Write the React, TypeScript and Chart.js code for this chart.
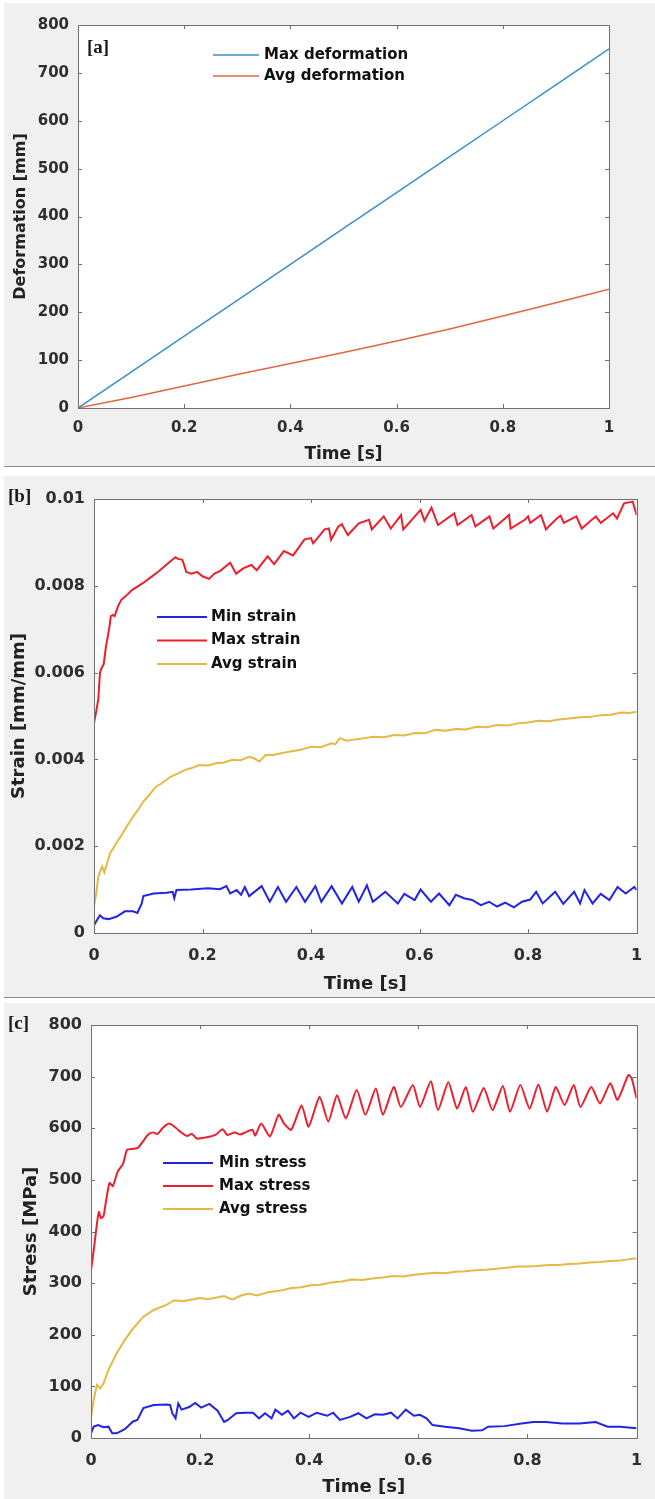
import React, { useEffect, useRef } from 'react';
import { Chart, registerables } from 'chart.js';

Chart.register(...registerables);

// ---------------- DATA ----------------
const xTicks = [0, 0.2, 0.4, 0.6, 0.8, 1];
const xTickLabels = ['0', '0.2', '0.4', '0.6', '0.8', '1'];

// Panel [a]
const deformTicks = [0, 100, 200, 300, 400, 500, 600, 700, 800];
const deformTickLabels = ['0', '100', '200', '300', '400', '500', '600', '700', '800'];
const maxDeformation: [number, number][] = [
  [0, 0], [0.1, 75], [0.2, 150], [0.3, 225], [0.4, 300], [0.5, 375],
  [0.6, 450], [0.7, 525], [0.8, 600], [0.9, 675], [1, 750],
];
const avgDeformation: [number, number][] = [
  [0, 0], [0.1, 22], [0.2, 46], [0.3, 70], [0.4, 93], [0.5, 116],
  [0.6, 140], [0.7, 165], [0.8, 192], [0.9, 220], [1, 248],
];

// Panel [b]
const strainTicks = [0, 0.002, 0.004, 0.006, 0.008, 0.01];
const strainTickLabels = ['0', '0.002', '0.004', '0.006', '0.008', '0.01'];
const minStrain: [number, number][] = [
  [0, 0.00018], [0.005, 0.00029], [0.011, 0.00041], [0.017, 0.00034], [0.027, 0.00032],
  [0.042, 0.00038], [0.057, 0.0005], [0.072, 0.0005], [0.08, 0.00046], [0.088, 0.00068],
  [0.091, 0.00085], [0.11, 0.00091], [0.134, 0.00093], [0.145, 0.00095], [0.148, 0.0008],
  [0.152, 0.00099], [0.179, 0.001], [0.21, 0.00103], [0.232, 0.00101], [0.244, 0.00108],
  [0.251, 0.00091], [0.263, 0.00099], [0.271, 0.00088], [0.278, 0.00106], [0.286, 0.00085],
  [0.309, 0.00108], [0.324, 0.00072], [0.339, 0.00106], [0.354, 0.00072], [0.373, 0.00106],
  [0.389, 0.00072], [0.408, 0.00108], [0.419, 0.00072], [0.438, 0.00108], [0.457, 0.00068],
  [0.476, 0.00106], [0.488, 0.00072], [0.503, 0.0011], [0.514, 0.00072], [0.537, 0.00095],
  [0.56, 0.00068], [0.572, 0.0009], [0.591, 0.00076], [0.602, 0.001], [0.621, 0.00072],
  [0.636, 0.00091], [0.655, 0.00064], [0.667, 0.00088], [0.682, 0.0008], [0.697, 0.00076],
  [0.713, 0.00064], [0.728, 0.00072], [0.743, 0.00061], [0.758, 0.0007], [0.774, 0.00059],
  [0.789, 0.00072], [0.804, 0.00077], [0.815, 0.00095], [0.827, 0.00068], [0.85, 0.00095],
  [0.865, 0.00067], [0.885, 0.00095], [0.896, 0.00068], [0.904, 0.00099], [0.919, 0.00068],
  [0.934, 0.0009], [0.95, 0.00076], [0.965, 0.00106], [0.98, 0.00091], [0.996, 0.00106],
  [1, 0.00099],
];
const maxStrain: [number, number][] = [
  [0, 0.00484], [0.004, 0.0051], [0.008, 0.0054], [0.011, 0.006], [0.014, 0.0061],
  [0.018, 0.0062], [0.022, 0.0066], [0.025, 0.0068], [0.029, 0.0071], [0.031, 0.0073],
  [0.035, 0.00733], [0.038, 0.0073], [0.044, 0.00752], [0.05, 0.00767], [0.06, 0.00778],
  [0.07, 0.0079], [0.08, 0.00798], [0.09, 0.00806], [0.105, 0.0082], [0.12, 0.00834],
  [0.135, 0.0085], [0.15, 0.00866], [0.155, 0.00862], [0.163, 0.0086], [0.17, 0.00832],
  [0.18, 0.00828], [0.19, 0.00832], [0.2, 0.00822], [0.212, 0.00816], [0.222, 0.00828],
  [0.232, 0.00834], [0.251, 0.00853], [0.262, 0.00828], [0.275, 0.0084], [0.29, 0.00848],
  [0.3, 0.00836], [0.32, 0.00868], [0.332, 0.0085], [0.35, 0.0088], [0.367, 0.0087],
  [0.388, 0.00907], [0.4, 0.0091], [0.404, 0.00898], [0.425, 0.0093], [0.433, 0.00932],
  [0.437, 0.00906], [0.45, 0.00936], [0.457, 0.00942], [0.462, 0.0093], [0.468, 0.00917],
  [0.488, 0.00944], [0.507, 0.00952], [0.512, 0.0093], [0.534, 0.0096], [0.547, 0.00932],
  [0.566, 0.00963], [0.57, 0.0093], [0.602, 0.00975], [0.609, 0.0095], [0.622, 0.0098],
  [0.634, 0.0094], [0.664, 0.00967], [0.67, 0.0094], [0.696, 0.00963], [0.703, 0.00937],
  [0.729, 0.0096], [0.736, 0.00932], [0.765, 0.00963], [0.768, 0.00932], [0.794, 0.00952],
  [0.8, 0.0096], [0.804, 0.00945], [0.824, 0.00963], [0.833, 0.0093], [0.853, 0.00955],
  [0.86, 0.00962], [0.866, 0.00945], [0.889, 0.0096], [0.899, 0.00932], [0.925, 0.0096],
  [0.934, 0.00945], [0.957, 0.00967], [0.964, 0.00955], [0.977, 0.0099], [0.993, 0.00994],
  [1, 0.00963],
];
const avgStrain: [number, number][] = [
  [0, 0.00061], [0.004, 0.0009], [0.008, 0.0013], [0.012, 0.00145], [0.015, 0.00153],
  [0.019, 0.0014], [0.024, 0.0016], [0.03, 0.00184], [0.04, 0.00205], [0.049, 0.00222],
  [0.06, 0.00245], [0.072, 0.00268], [0.082, 0.00285], [0.091, 0.00303], [0.1, 0.00315],
  [0.114, 0.00337], [0.125, 0.00345], [0.141, 0.0036], [0.155, 0.00368], [0.168, 0.00376],
  [0.18, 0.0038], [0.194, 0.00387], [0.21, 0.00386], [0.225, 0.00391], [0.24, 0.00393],
  [0.255, 0.00399], [0.27, 0.00398], [0.286, 0.00406], [0.296, 0.00402], [0.305, 0.00395],
  [0.316, 0.0041], [0.33, 0.0041], [0.345, 0.00414], [0.362, 0.00418], [0.38, 0.00422],
  [0.4, 0.00429], [0.418, 0.00428], [0.438, 0.00437], [0.445, 0.00435], [0.453, 0.00449],
  [0.465, 0.00443], [0.476, 0.00445], [0.495, 0.00448], [0.514, 0.00452], [0.535, 0.00451],
  [0.553, 0.00456], [0.572, 0.00455], [0.591, 0.00461], [0.61, 0.0046], [0.629, 0.00468],
  [0.648, 0.00466], [0.667, 0.0047], [0.686, 0.00469], [0.705, 0.00475], [0.724, 0.00474],
  [0.743, 0.00479], [0.762, 0.00478], [0.781, 0.00483], [0.8, 0.00485], [0.819, 0.00489],
  [0.838, 0.00488], [0.857, 0.00492], [0.876, 0.00494], [0.896, 0.00497], [0.915, 0.00498],
  [0.934, 0.00502], [0.953, 0.00503], [0.972, 0.00508], [0.986, 0.00507], [1, 0.0051],
];

// Panel [c]
const stressTicks = [0, 100, 200, 300, 400, 500, 600, 700, 800];
const stressTickLabels = ['0', '100', '200', '300', '400', '500', '600', '700', '800'];
const minStress: [number, number][] = [
  [0, 9], [0.005, 22], [0.013, 25], [0.023, 21], [0.032, 22], [0.039, 9], [0.047, 9],
  [0.062, 17], [0.077, 32], [0.085, 35], [0.096, 58], [0.115, 64], [0.138, 65], [0.145, 64],
  [0.149, 48], [0.155, 38], [0.16, 67], [0.166, 55], [0.18, 60], [0.191, 68], [0.202, 59],
  [0.217, 66], [0.232, 53], [0.244, 31], [0.251, 35], [0.266, 48], [0.282, 49], [0.297, 49],
  [0.308, 38], [0.319, 48], [0.331, 38], [0.338, 55], [0.35, 45], [0.361, 53], [0.372, 38],
  [0.384, 49], [0.399, 41], [0.414, 49], [0.433, 43], [0.444, 49], [0.456, 35], [0.475, 41],
  [0.49, 48], [0.505, 38], [0.52, 46], [0.535, 45], [0.55, 49], [0.562, 38], [0.577, 55],
  [0.592, 43], [0.603, 45], [0.615, 38], [0.626, 25], [0.649, 22], [0.675, 19], [0.698, 14],
  [0.717, 15], [0.728, 22], [0.758, 23], [0.789, 28], [0.811, 31], [0.834, 31], [0.864, 28],
  [0.895, 28], [0.925, 31], [0.947, 22], [0.97, 22], [1, 19],
];
const maxStress: [number, number][] = [
  [0, 325], [0.005, 364], [0.011, 416], [0.0145, 438], [0.018, 426], [0.023, 430], [0.028, 462],
  [0.034, 494], [0.04, 488], [0.049, 516], [0.059, 532], [0.066, 558], [0.077, 560], [0.086, 562],
  [0.095, 574], [0.104, 587], [0.113, 592], [0.122, 589], [0.131, 600], [0.143, 609], [0.153, 603],
  [0.164, 593], [0.176, 585], [0.185, 589], [0.194, 580], [0.21, 582], [0.228, 587], [0.241, 598],
  [0.25, 587], [0.263, 592], [0.273, 588], [0.283, 592], [0.296, 597], [0.301, 586], [0.312, 609],
  [0.328, 584], [0.344, 626], [0.354, 609], [0.367, 597], [0.386, 644], [0.399, 603], [0.419, 661],
  [0.435, 613], [0.451, 664], [0.467, 619], [0.487, 674], [0.503, 626], [0.522, 677], [0.535, 626],
  [0.555, 680], [0.568, 641], [0.59, 684], [0.603, 641], [0.623, 691], [0.636, 635], [0.655, 689],
  [0.671, 638], [0.687, 680], [0.7, 632], [0.72, 678], [0.736, 635], [0.755, 682], [0.768, 632],
  [0.787, 684], [0.804, 638], [0.82, 685], [0.836, 632], [0.852, 680], [0.868, 645], [0.885, 684],
  [0.897, 641], [0.917, 680], [0.933, 648], [0.952, 687], [0.965, 655], [0.985, 703], [0.991, 697],
  [1, 658],
];
const avgStress: [number, number][] = [
  [0, 41], [0.005, 74], [0.011, 103], [0.017, 96], [0.023, 106], [0.032, 132], [0.047, 164],
  [0.062, 190], [0.077, 212], [0.096, 235], [0.115, 248], [0.138, 258], [0.153, 267], [0.168, 265],
  [0.183, 268], [0.2, 271], [0.214, 269], [0.23, 272], [0.244, 275], [0.259, 268], [0.275, 276],
  [0.289, 280], [0.304, 276], [0.327, 283], [0.345, 285], [0.365, 290], [0.385, 292], [0.403, 296],
  [0.42, 297], [0.441, 301], [0.46, 303], [0.478, 307], [0.497, 306], [0.516, 309], [0.535, 311],
  [0.554, 314], [0.573, 313], [0.592, 316], [0.611, 318], [0.63, 320], [0.649, 319], [0.668, 322],
  [0.686, 323], [0.705, 325], [0.724, 326], [0.743, 328], [0.762, 330], [0.781, 332], [0.8, 332],
  [0.819, 333], [0.838, 335], [0.857, 335], [0.876, 337], [0.895, 338], [0.914, 340], [0.932, 341],
  [0.951, 343], [0.97, 344], [0.985, 346], [1, 348],
];

// ---------------- STYLE / PLUGINS ----------------
const SANS = "'DejaVu Sans', 'Liberation Sans', sans-serif";

const matlabBox = {
  id: 'matlabBox',
  beforeDraw(chart: any) {
    const { ctx, chartArea: a } = chart;
    ctx.save();
    ctx.fillStyle = '#ffffff';
    ctx.fillRect(a.left, a.top, a.right - a.left, a.bottom - a.top);
    ctx.restore();
  },
  afterDraw(chart: any, _args: any, opts: any) {
    const { ctx, chartArea: a, scales } = chart;
    const L = opts.tickLength ?? 4;
    ctx.save();
    ctx.strokeStyle = opts.color ?? '#777';
    ctx.lineWidth = 1;
    ctx.beginPath();
    for (const t of scales.x.ticks) {
      const px = Math.round(scales.x.getPixelForValue(t.value)) + 0.5;
      ctx.moveTo(px, a.bottom); ctx.lineTo(px, a.bottom - L);
      ctx.moveTo(px, a.top); ctx.lineTo(px, a.top + L);
    }
    for (const t of scales.y.ticks) {
      const py = Math.round(scales.y.getPixelForValue(t.value)) + 0.5;
      ctx.moveTo(a.left, py); ctx.lineTo(a.left + L, py);
      ctx.moveTo(a.right, py); ctx.lineTo(a.right - L, py);
    }
    ctx.stroke();
    ctx.strokeRect(Math.round(a.left) + 0.5, Math.round(a.top) + 0.5,
      Math.round(a.right - a.left), Math.round(a.bottom - a.top));
    ctx.restore();
  },
};

const insetLegend = {
  id: 'insetLegend',
  afterDraw(chart: any, _args: any, opts: any) {
    const { ctx, chartArea: a } = chart;
    ctx.save();
    ctx.font = `bold ${opts.fontSize}px ${SANS}`;
    ctx.textBaseline = 'middle';
    ctx.textAlign = 'left';
    chart.data.datasets.forEach((ds: any, i: number) => {
      const y = a.top + opts.y + i * opts.rowHeight;
      ctx.strokeStyle = ds.borderColor;
      ctx.lineWidth = ds.borderWidth;
      ctx.beginPath();
      ctx.moveTo(a.left + opts.lineStart, y);
      ctx.lineTo(a.left + opts.lineEnd, y);
      ctx.stroke();
      ctx.fillStyle = '#111';
      ctx.fillText(ds.label, a.left + opts.textX, y);
    });
    ctx.restore();
  },
};

type Series = { label: string; data: [number, number][]; color: string; width: number; tension?: number };
type PanelCfg = {
  left: number; top: number; w: number; h: number;
  yAxisW: number; xAxisH: number; padTop: number; padRight: number;
  yTicks: number[]; yLabels: string[]; yMax: number;
  yTitle: string; yTitleSize: number; yTitlePad: number;
  xTitleSize: number; xTitlePad: number;
  tickSize: number; xTickPad: number; yTickPad: number;
  legend: { lineStart: number; lineEnd: number; textX: number; y: number; rowHeight: number; fontSize: number };
  series: Series[];
};

function Panel({ cfg }: { cfg: PanelCfg }) {
  const ref = useRef<HTMLCanvasElement>(null);
  useEffect(() => {
    const chart = new Chart(ref.current as HTMLCanvasElement, {
      type: 'line',
      data: {
        datasets: cfg.series.map((s) => ({
          label: s.label,
          data: s.data.map(([x, y]) => ({ x, y })),
          borderColor: s.color,
          backgroundColor: s.color,
          borderWidth: s.width,
          pointRadius: 0,
          tension: s.tension ?? 0,
          fill: false,
        })),
      },
      options: {
        animation: false,
        responsive: false,
        devicePixelRatio: 1,
        events: [],
        layout: { padding: { left: 0, top: cfg.padTop, right: cfg.padRight, bottom: 0 } },
        plugins: {
          legend: { display: false },
          tooltip: { enabled: false },
          matlabBox: { color: '#707070', tickLength: 4 },
          insetLegend: cfg.legend,
        } as any,
        scales: {
          x: {
            type: 'linear',
            min: 0,
            max: 1,
            grid: { display: false, drawTicks: false },
            border: { display: false },
            afterBuildTicks: (s: any) => { s.ticks = xTicks.map((v) => ({ value: v })); },
            afterFit: (s: any) => { s.height = cfg.xAxisH; },
            ticks: {
              autoSkip: false,
              maxRotation: 0,
              padding: cfg.xTickPad,
              color: '#2e2e2e',
              font: { family: SANS, size: cfg.tickSize, weight: 'bold' },
              callback: (_v: any, i: number) => xTickLabels[i],
            },
            title: {
              display: true,
              text: 'Time [s]',
              color: '#222',
              padding: { top: 0, bottom: cfg.xTitlePad },
              font: { family: SANS, size: cfg.xTitleSize, weight: 'bold' },
            },
          },
          y: {
            type: 'linear',
            min: 0,
            max: cfg.yMax,
            grid: { display: false, drawTicks: false },
            border: { display: false },
            afterBuildTicks: (s: any) => { s.ticks = cfg.yTicks.map((v) => ({ value: v })); },
            afterFit: (s: any) => { s.width = cfg.yAxisW; },
            ticks: {
              autoSkip: false,
              padding: cfg.yTickPad,
              color: '#2e2e2e',
              font: { family: SANS, size: cfg.tickSize, weight: 'bold' },
              callback: (_v: any, i: number) => cfg.yLabels[i],
            },
            title: {
              display: true,
              text: cfg.yTitle,
              color: '#222',
              padding: { top: cfg.yTitlePad, bottom: 0 },
              font: { family: SANS, size: cfg.yTitleSize, weight: 'bold' },
            },
          },
        },
      } as any,
      plugins: [matlabBox, insetLegend],
    });
    return () => chart.destroy();
  }, [cfg]);
  return (
    <div style={{ position: 'absolute', left: cfg.left, top: cfg.top, width: cfg.w, height: cfg.h, background: '#f0f0f0' }}>
      <canvas ref={ref} width={cfg.w} height={cfg.h} style={{ display: 'block', width: cfg.w, height: cfg.h }} />
    </div>
  );
}

const panelA: PanelCfg = {
  left: 4, top: 3, w: 651, h: 463,
  yAxisW: 74, xAxisH: 58, padTop: 22, padRight: 46,
  yTicks: deformTicks, yLabels: deformTickLabels, yMax: 800,
  yTitle: 'Deformation [mm]', yTitleSize: 16, yTitlePad: 7.4,
  xTitleSize: 17, xTitlePad: 1.5,
  tickSize: 15, xTickPad: 11.5, yTickPad: 9,
  legend: { lineStart: 135, lineEnd: 181, textX: 186, y: 30, rowHeight: 21, fontSize: 15 },
  series: [
    { label: 'Max deformation', data: maxDeformation, color: '#3a8fcf', width: 1.5 },
    { label: 'Avg deformation', data: avgDeformation, color: '#e0673f', width: 1.5 },
  ],
};

const panelB: PanelCfg = {
  left: 4, top: 476, w: 651, h: 521,
  yAxisW: 90, xAxisH: 64, padTop: 23, padRight: 13,
  yTicks: strainTicks, yLabels: strainTickLabels, yMax: 0.01,
  yTitle: 'Strain [mm/mm]', yTitleSize: 18, yTitlePad: 4.2,
  xTitleSize: 18, xTitlePad: 2,
  tickSize: 16, xTickPad: 12.9, yTickPad: 9,
  legend: { lineStart: 63, lineEnd: 113, textX: 117, y: 118, rowHeight: 23.5, fontSize: 15 },
  series: [
    { label: 'Min strain', data: minStrain, color: '#2323e6', width: 2 },
    { label: 'Max strain', data: maxStrain, color: '#ee1f2d', width: 2 },
    { label: 'Avg strain', data: avgStrain, color: '#e6b845', width: 2 },
  ],
};

const panelC: PanelCfg = {
  left: 4, top: 1003, w: 651, h: 496,
  yAxisW: 87, xAxisH: 61, padTop: 22, padRight: 12,
  yTicks: stressTicks, yLabels: stressTickLabels, yMax: 800,
  yTitle: 'Stress [MPa]', yTitleSize: 18, yTitlePad: 16.2,
  xTitleSize: 18, xTitlePad: 1,
  tickSize: 16, xTickPad: 12.9, yTickPad: 9,
  legend: { lineStart: 72, lineEnd: 122, textX: 128, y: 138, rowHeight: 23, fontSize: 15 },
  series: [
    { label: 'Min stress', data: minStress, color: '#2323e6', width: 2 },
    { label: 'Max stress', data: maxStress, color: '#ee1f2d', width: 2, tension: 0.2 },
    { label: 'Avg stress', data: avgStress, color: '#e6b845', width: 2 },
  ],
};

const tagStyle: React.CSSProperties = {
  position: 'absolute',
  fontFamily: "'Liberation Serif', 'DejaVu Serif', serif",
  fontWeight: 'bold',
  fontSize: 19,
  lineHeight: '19px',
  color: '#1a1a1a',
};

export default function App() {
  return (
    <div style={{ position: 'absolute', left: 0, top: 0, width: 655, height: 1499, background: '#ffffff', overflow: 'hidden' }}>
      <Panel cfg={panelA} />
      <div style={{ position: 'absolute', left: 4, top: 466, width: 651, height: 1, background: '#8a8a8a' }} />
      <Panel cfg={panelB} />
      <div style={{ position: 'absolute', left: 4, top: 997, width: 651, height: 1, background: '#8a8a8a' }} />
      <Panel cfg={panelC} />
      <div style={{ ...tagStyle, left: 87, top: 37 }}>[a]</div>
      <div style={{ ...tagStyle, left: 8, top: 486 }}>[b]</div>
      <div style={{ ...tagStyle, left: 8, top: 1013 }}>[c]</div>
    </div>
  );
}
